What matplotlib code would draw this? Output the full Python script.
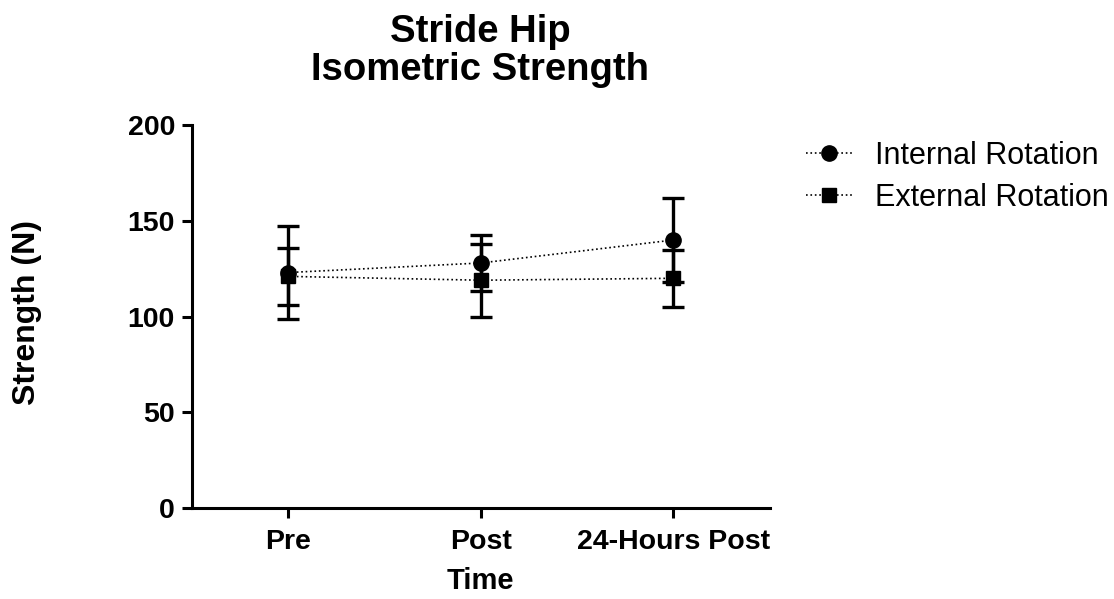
import matplotlib
matplotlib.use('Agg')
import matplotlib.pyplot as plt
from matplotlib.lines import Line2D

plt.rcParams['font.family'] = ['Liberation Sans', 'DejaVu Sans']

# 数据
categories = ['Pre', 'Post', '24-Hours Post']
internal_mean = [123, 128, 140]
internal_err = [24.5, 14.5, 22]
external_mean = [121, 119, 120]
external_err = [15, 19, 15]

fig = plt.figure(figsize=(11.14, 5.99), dpi=100)
ax = fig.add_axes([0.172, 0.152, 0.519, 0.639])

x = list(range(len(categories)))

ax.errorbar(x, internal_mean, yerr=internal_err, fmt='o', color='black', ecolor='black',
            markersize=11, elinewidth=2.4, capsize=8, capthick=2.4, linestyle=':',
            linewidth=1.2)
ax.errorbar(x, external_mean, yerr=external_err, fmt='s', color='black', ecolor='black',
            markersize=10.5, elinewidth=2.4, capsize=8, capthick=2.4, linestyle=':',
            linewidth=1.2)

ax.set_xlim(-0.5, 2.5)
ax.set_ylim(0, 200)
ax.set_yticks([0, 50, 100, 150, 200])
ax.set_xticks(x)
ax.set_xticklabels(categories)

for s in ['top', 'right']:
    ax.spines[s].set_visible(False)
for s in ['left', 'bottom']:
    ax.spines[s].set_linewidth(2.2)

ax.tick_params(axis='both', width=2.2, length=7, labelsize=20.5, pad=5)
ax.tick_params(axis='x', pad=8)
for lab in ax.get_xticklabels() + ax.get_yticklabels():
    lab.set_fontweight('bold')

# 标题和坐标轴标签
fig.text(0.431, 0.915, 'Stride Hip\nIsometric Strength', ha='center', va='center',
         fontsize=27.5, fontweight='bold', linespacing=1.1)
fig.text(0.431, 0.030, 'Time', ha='center', va='center', fontsize=21, fontweight='bold')
fig.text(0.024, 0.479, 'Strength (N)', ha='center', va='center', rotation=90,
         fontsize=23, fontweight='bold')

# 图例
handles = [
    Line2D([], [], color='black', linestyle=':', linewidth=1.2, marker='o', markersize=11),
    Line2D([], [], color='black', linestyle=':', linewidth=1.2, marker='s', markersize=10.5),
]
fig.legend(handles, ['Internal Rotation', 'External Rotation'], loc='upper left',
           bbox_to_anchor=(0.699, 0.811), frameon=False, fontsize=22,
           handlelength=1.5, labelspacing=0.4, handletextpad=0.75)

fig.savefig('out.png', dpi=100)
